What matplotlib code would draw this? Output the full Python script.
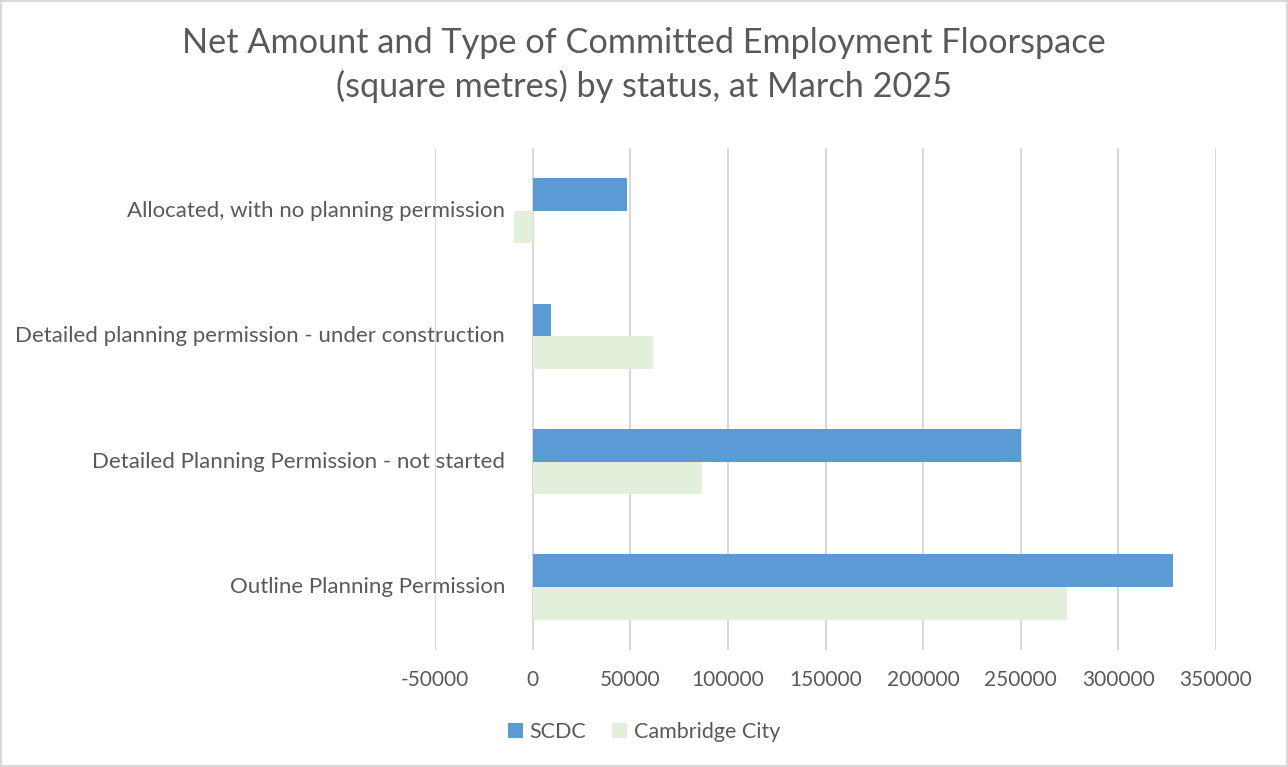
import matplotlib.pyplot as plt
import numpy as np

CATEGORIES = [
    "Outline Planning Permission",
    "Detailed Planning Permission - not started",
    "Detailed planning permission - under construction",
    "Allocated, with no planning permission",
]
SCDC = [328000, 250000, 9200, 48000]
CAMBRIDGE = [273500, 86700, 61700, -9700]
XTICKS = [-50000, 0, 50000, 100000, 150000, 200000, 250000, 300000, 350000]

TEXT = "#595959"

plt.rcParams["font.family"] = ["Lato", "DejaVu Sans"]

fig = plt.figure(figsize=(12.88, 7.67), dpi=100)
fig.patch.set_edgecolor("#D9D9D9")
fig.patch.set_linewidth(1.5)
ax = fig.add_axes([0.338, 0.153, 0.606, 0.654])

y = np.arange(len(CATEGORIES))
h = 0.26
ax.barh(y + h / 2, SCDC, height=h, color="#5B9BD5", label="SCDC", zorder=3)
ax.barh(y - h / 2, CAMBRIDGE, height=h, color="#E2EFDA", label="Cambridge City", zorder=3)

ax.set_xlim(-50000, 350000)
ax.set_ylim(-0.5, 3.5)
ax.set_xticks(XTICKS, [str(v) for v in XTICKS])
ax.set_yticks(y, [])
ax.tick_params(length=0, labelsize=15, colors=TEXT)
ax.tick_params(axis="x", pad=15)
ax.grid(axis="x", color="#D9D9D9", linewidth=1.5, zorder=0)
for s in ax.spines.values():
    s.set_visible(False)

# category labels sit next to the zero line, as in Excel
for yi, lab in zip(y, CATEGORIES):
    ax.annotate(lab, xy=(0, yi), xytext=(-20, 0), textcoords="offset points",
                ha="right", va="center", fontsize=16, color=TEXT)

fig.suptitle("Net Amount and Type of Committed Employment Floorspace\n(square metres) by status, at March 2025",
             fontsize=24.7, color=TEXT, y=0.965, linespacing=1.4)

fig.legend(loc="center", bbox_to_anchor=(0.5, 0.045), ncol=2, frameon=False,
           fontsize=15.5, labelcolor=TEXT, handlelength=0.7, handleheight=0.7,
           handletextpad=0.3, columnspacing=1.2)

fig.savefig("out.png", dpi=100)
